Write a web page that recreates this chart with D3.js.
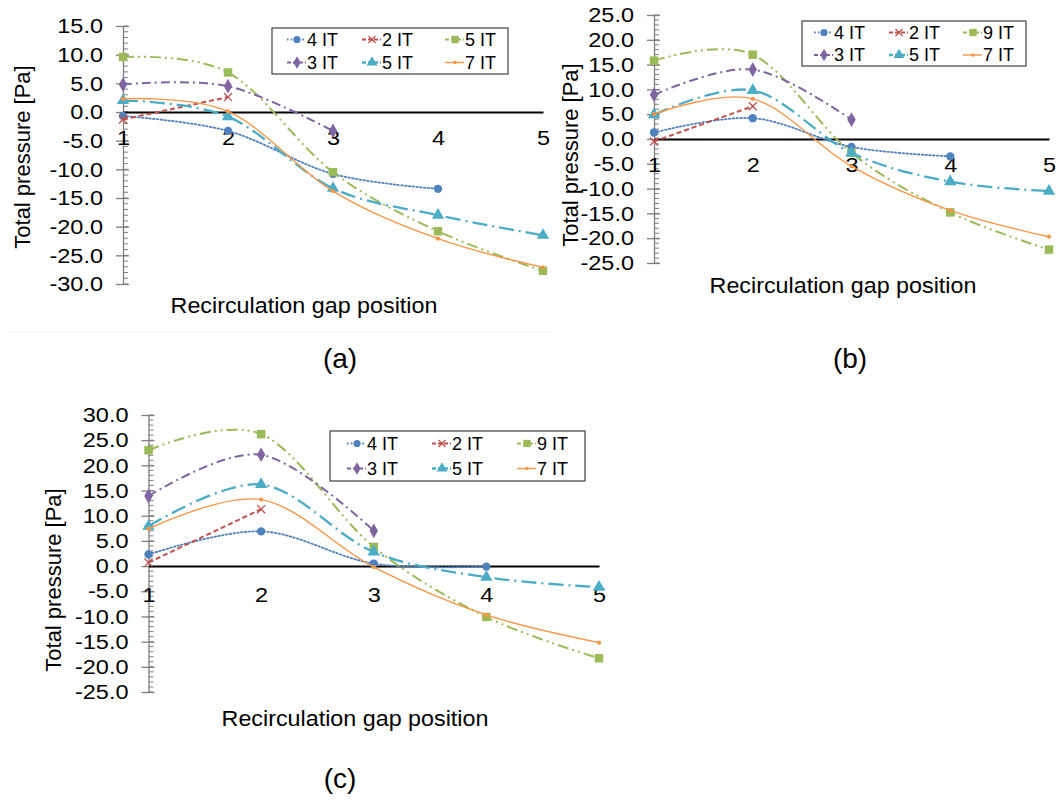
<!DOCTYPE html>
<html>
<head>
<meta charset="utf-8">
<script src="https://cdn.jsdelivr.net/npm/d3@7"></script>
<style>
  body { margin: 0; background: #fff; }
  svg { display: block; }
  text { font-family: "Liberation Sans", Arial, sans-serif; fill: #000; }
</style>
</head>
<body>
<svg id="chart" width="1058" height="803"></svg>
<script>
// positions on the x axis
var positions = [1, 2, 3, 4, 5];

// legend names
var namesA = ["4 IT", "2 IT", "5 IT", "3 IT", "5 IT", "7 IT"];
var namesBC = ["4 IT", "2 IT", "9 IT", "3 IT", "5 IT", "7 IT"];

// total pressure [Pa], one row per series (same order as names)
var valuesA = [
  [-0.7, -3.3, -10.8, -13.4],
  [-1.3, 2.6],
  [9.6, 6.9, -10.5, -20.8, -27.7],
  [4.8, 4.5, -3.3],
  [2.0, -0.8, -13.3, -18.0, -21.5],
  [2.3, 0.1, -13.8, -22.1, -27.1]
];
var valuesB = [
  [1.3, 4.2, -1.6, -3.5],
  [-0.5, 6.6],
  [15.8, 17.0, -2.8, -14.8, -22.3],
  [8.9, 14.0, 3.9],
  [4.9, 9.8, -2.8, -8.6, -10.5],
  [5.0, 8.1, -5.5, -14.4, -19.7]
];
var valuesC = [
  [2.3, 6.9, 0.5, -0.1],
  [0.7, 11.3],
  [23.0, 26.2, 3.8, -10.1, -18.3],
  [13.9, 22.1, 7.0],
  [7.9, 16.2, 2.8, -2.2, -4.2],
  [7.4, 13.2, -0.2, -9.7, -15.2]
];

// y tick labels
var yTicksA = [15, 10, 5, 0, -5, -10, -15, -20, -25, -30];
var yTicksB = [25, 20, 15, 10, 5, 0, -5, -10, -15, -20, -25];
var yTicksC = [30, 25, 20, 15, 10, 5, 0, -5, -10, -15, -20, -25];

// series styles
var colors = ["#4F81BD", "#C0504D", "#9BBB59", "#8064A2", "#4BACC6", "#F79646"];
var dashes = ["1.6 2.2", "5 3", "11 4 2 4 2 4", "9 4 2 4", "15 5 2 5", null];
var widths = [1.8, 2, 2, 2, 2.3, 1.4];
var symbols = [d3.symbolCircle, d3.symbolX || d3.symbolTimes, d3.symbolSquare, d3.symbolDiamond, d3.symbolTriangle, d3.symbolCircle];
var symSizes = [55, 44, 72, 62, 66, 14];

var fmt = function(v) { return v.toFixed(1); };
var stretch = 1.12;

var svg = d3.select("#chart");

function drawPanel(p) {
  var x = d3.scaleLinear().domain([1, 5]).range([p.x0, p.x1]);
  var y = d3.scaleLinear().domain([p.ticks[p.ticks.length - 1], p.ticks[0]]).range([p.yBot, p.yTop]);
  var g = svg.append("g");

  // minor ticks every 1.0
  var minor = d3.range(p.ticks[p.ticks.length - 1], p.ticks[0] + 0.01, 1);
  g.selectAll(".minor").data(minor).join("line")
    .attr("x1", p.x0).attr("x2", p.x0 + 5)
    .attr("y1", function(d) { return y(d); })
    .attr("y2", function(d) { return y(d); })
    .attr("stroke", "#7f7f7f").attr("stroke-width", 1);

  // y axis
  var ax = g.append("g")
    .attr("transform", "translate(" + p.x0 + ",0)")
    .call(d3.axisLeft(y).tickValues(p.ticks).tickFormat(fmt).tickSizeInner(7).tickSizeOuter(0).tickPadding(13));
  ax.select(".domain").attr("stroke", "#7f7f7f").attr("stroke-width", 1.3);
  ax.selectAll(".tick line").attr("stroke", "#7f7f7f").attr("x2", -7).attr("x1", 6).attr("stroke-width", 1.3);
  ax.selectAll(".tick text").attr("font-size", 21).attr("fill", "#000")
    .attr("font-family", "Liberation Sans, Arial, sans-serif")
    .attr("x", -20 / stretch)
    .attr("transform", "scale(" + stretch + ",1)");

  // x axis at zero
  var xa = g.append("g")
    .attr("transform", "translate(0," + y(0) + ")")
    .call(d3.axisBottom(x).tickValues(positions).tickFormat(d3.format("d")).tickSize(0).tickPadding(p.xPad));
  xa.select(".domain").attr("stroke", "#000").attr("stroke-width", 2);
  xa.selectAll(".tick text").attr("font-size", 21).attr("fill", "#000")
    .attr("font-family", "Liberation Sans, Arial, sans-serif")
    .attr("transform", "scale(" + stretch + ",1)");

  // series
  var line = d3.line()
    .x(function(d, i) { return x(positions[i]); })
    .y(function(d) { return y(d); })
    .curve(d3.curveCatmullRom.alpha(0));

  p.values.forEach(function(vals, s) {
    g.append("path")
      .attr("d", line(vals))
      .attr("fill", "none")
      .attr("stroke", colors[s])
      .attr("stroke-width", widths[s])
      .attr("stroke-dasharray", dashes[s])
      .attr("stroke-linecap", s === 0 ? "round" : "butt");
    g.selectAll(".m" + s).data(vals).join("path")
      .attr("transform", function(d, i) { return "translate(" + x(positions[i]) + "," + y(d) + ")"; })
      .attr("d", d3.symbol().type(symbols[s]).size(symSizes[s]))
      .attr("fill", s === 1 ? "none" : colors[s])
      .attr("stroke", s === 1 ? colors[s] : "none")
      .attr("stroke-width", 1.3);
  });

  // axis titles
  g.append("text")
    .attr("transform", "translate(" + p.ytX + "," + p.ytY + ") rotate(-90)")
    .attr("text-anchor", "middle").attr("dy", "0.35em")
    .attr("font-size", 22)
    .text("Total pressure [Pa]");
  g.append("text")
    .attr("transform", "translate(" + p.xtX + "," + p.xtY + ") scale(1.06,1)")
    .attr("text-anchor", "middle")
    .attr("font-size", 22)
    .text("Recirculation gap position");

  // legend
  var L = p.legend;
  g.append("rect")
    .attr("x", L.x).attr("y", L.y).attr("width", L.w).attr("height", L.h)
    .attr("fill", "#fff").attr("stroke", "#404040").attr("stroke-width", 1.2);
  p.names.forEach(function(name, s) {
    var col = s % 3, row = Math.floor(s / 3);
    var lx = L.x + L.cols[col];
    var ly = L.y + L.rows[row];
    g.append("line")
      .attr("x1", lx).attr("x2", lx + 19).attr("y1", ly).attr("y2", ly)
      .attr("stroke", colors[s]).attr("stroke-width", widths[s])
      .attr("stroke-dasharray", s === 5 ? null : (s === 0 ? "1.6 2.2" : "4 2"));
    g.append("path")
      .attr("transform", "translate(" + (lx + 10) + "," + ly + ")")
      .attr("d", d3.symbol().type(symbols[s]).size(symSizes[s] * 0.75))
      .attr("fill", s === 1 ? "none" : colors[s])
      .attr("stroke", s === 1 ? colors[s] : "none")
      .attr("stroke-width", 1.2);
    g.append("text")
      .attr("x", lx + 20).attr("y", ly).attr("dy", "0.35em")
      .attr("font-size", 18)
      .text(name);
  });

  svg.append("text")
    .attr("x", p.capX).attr("y", p.capY)
    .attr("text-anchor", "middle")
    .attr("font-family", "Liberation Serif, Times New Roman, serif")
    .attr("font-size", 28)
    .text(p.caption);
}

// faint frame line under panel (a)
svg.append("line").attr("x1", 7).attr("x2", 552).attr("y1", 332).attr("y2", 332)
  .attr("stroke", "#f0f0f0").attr("stroke-width", 1);

drawPanel({
  x0: 123, x1: 543, yTop: 26, yBot: 284, ticks: yTicksA, values: valuesA, names: namesA, xPad: 18,
  ytX: 22, ytY: 157, xtX: 304, xtY: 313,
  legend: { x: 272, y: 28, w: 236, h: 46, cols: [15, 90, 173], rows: [11.5, 34.5] },
  caption: "(a)", capX: 340, capY: 368
});
drawPanel({
  x0: 654, x1: 1049, yTop: 15, yBot: 263, ticks: yTicksB, values: valuesB, names: namesBC, xPad: 18,
  ytX: 570, ytY: 155, xtX: 843, xtY: 293,
  legend: { x: 802, y: 21, w: 224, h: 45, cols: [12, 87, 161], rows: [11.5, 34] },
  caption: "(b)", capX: 850, capY: 368
});
drawPanel({
  x0: 148.5, x1: 599, yTop: 415, yBot: 692, ticks: yTicksC, values: valuesC, names: namesBC, xPad: 21,
  ytX: 53, ytY: 580, xtX: 355, xtY: 726,
  legend: { x: 330, y: 431, w: 255, h: 50, cols: [17, 102, 187], rows: [12.5, 37.5] },
  caption: "(c)", capX: 340, capY: 788
});
</script>
</body>
</html>
